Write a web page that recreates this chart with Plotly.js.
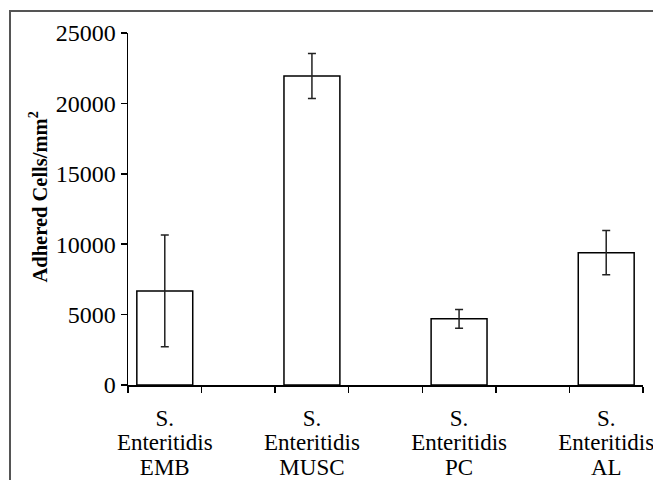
<!DOCTYPE html>
<html>
<head>
<meta charset="utf-8">
<script src="https://cdn.plot.ly/plotly-3.0.1.min.js"></script>
<style>
  html, body { margin: 0; padding: 0; background: #fff; }
  #wrap { position: relative; width: 653px; height: 480px; overflow: hidden; }
  #chart { position: absolute; left: 0; top: 0; width: 653px; height: 480px; }
  #frame { position: absolute; left: 9px; top: 10px; width: 700px; height: 500px;
           border-left: 2px solid #555; border-top: 2px solid #555; pointer-events: none; }
</style>
</head>
<body>
<div id="wrap">
  <div id="chart"></div>
  <div id="frame"></div>
</div>
<script>
// Data
const labelLine1 = ["S.", "S.", "S.", "S."];
const labelLine2 = ["Enteritidis", "Enteritidis", "Enteritidis", "Enteritidis"];
const categories = ["EMB", "MUSC", "PC", "AL"];
const adheredCells = [6680, 21950, 4700, 9400];
const errorValues = [3970, 1600, 670, 1570];
const yTickValues = [0, 5000, 10000, 15000, 20000, 25000];

// Each bar occupies every other slot on the axis (blank slot between bars)
const slotPositions = categories.map((c, i) => i * 2);
const nSlots = categories.length * 2 - 1;
const boundaries = [];
for (let i = 0; i <= nSlots; i++) boundaries.push(i - 0.5);

const fam = "Liberation Serif, Times New Roman, serif";

const trace = {
  type: "bar",
  x: slotPositions,
  y: adheredCells,
  width: 0.76,
  marker: { color: "#ffffff", line: { color: "#000", width: 1.5 } },
  error_y: { type: "data", array: errorValues, visible: true, color: "#222", thickness: 1.5, width: 4 },
  xaxis: "x",
  yaxis: "y",
  hoverinfo: "none"
};

function labelAxis(text, standoff) {
  return {
    overlaying: "x",
    anchor: "y",
    side: "bottom",
    range: [-0.5, nSlots - 0.5],
    tickmode: "array",
    tickvals: slotPositions,
    ticktext: text,
    ticks: "",
    ticklabelstandoff: standoff,
    ticklabeloverflow: "allow",
    showline: false,
    showgrid: false,
    zeroline: false,
    tickfont: { family: fam, size: 23, color: "#000" }
  };
}

const layout = {
  width: 653,
  height: 480,
  margin: { l: 128, r: 10, t: 33, b: 95 },
  paper_bgcolor: "rgba(0,0,0,0)",
  plot_bgcolor: "rgba(0,0,0,0)",
  font: { family: fam, size: 22, color: "#000" },
  showlegend: false,
  xaxis: {
    range: [-0.5, nSlots - 0.5],
    tickmode: "array",
    tickvals: boundaries,
    showticklabels: false,
    ticks: "outside",
    ticklen: 6,
    tickwidth: 1.5,
    tickcolor: "#000",
    showline: true,
    linecolor: "#000",
    linewidth: 1.5,
    showgrid: false,
    zeroline: false
  },
  xaxis2: labelAxis(labelLine1, 17),
  xaxis3: labelAxis(labelLine2, 41),
  xaxis4: labelAxis(categories, 66),
  yaxis: {
    range: [0, 25000],
    tickmode: "array",
    tickvals: yTickValues,
    ticktext: yTickValues.map(String),
    ticks: "outside",
    ticklen: 6,
    tickwidth: 1.5,
    tickcolor: "#000",
    showline: true,
    linecolor: "#000",
    linewidth: 1.5,
    showgrid: false,
    zeroline: false,
    tickfont: { family: fam, size: 24, color: "#000" }
  },
  annotations: [{
    text: "<b>Adhered Cells/mm<sup>2</sup></b>",
    textangle: -90,
    xref: "paper", yref: "paper",
    x: -0.175, y: 0.535,
    xanchor: "center", yanchor: "middle",
    showarrow: false,
    font: { family: fam, size: 20.5, color: "#000" }
  }]
};

const dummy = (ax) => ({
  type: "scatter", x: slotPositions, y: adheredCells.map(() => null),
  xaxis: ax, yaxis: "y", mode: "markers", hoverinfo: "none", showlegend: false
});

Plotly.newPlot("chart", [trace, dummy("x2"), dummy("x3"), dummy("x4")], layout, { staticPlot: true, displayModeBar: false });
</script>
</body>
</html>
